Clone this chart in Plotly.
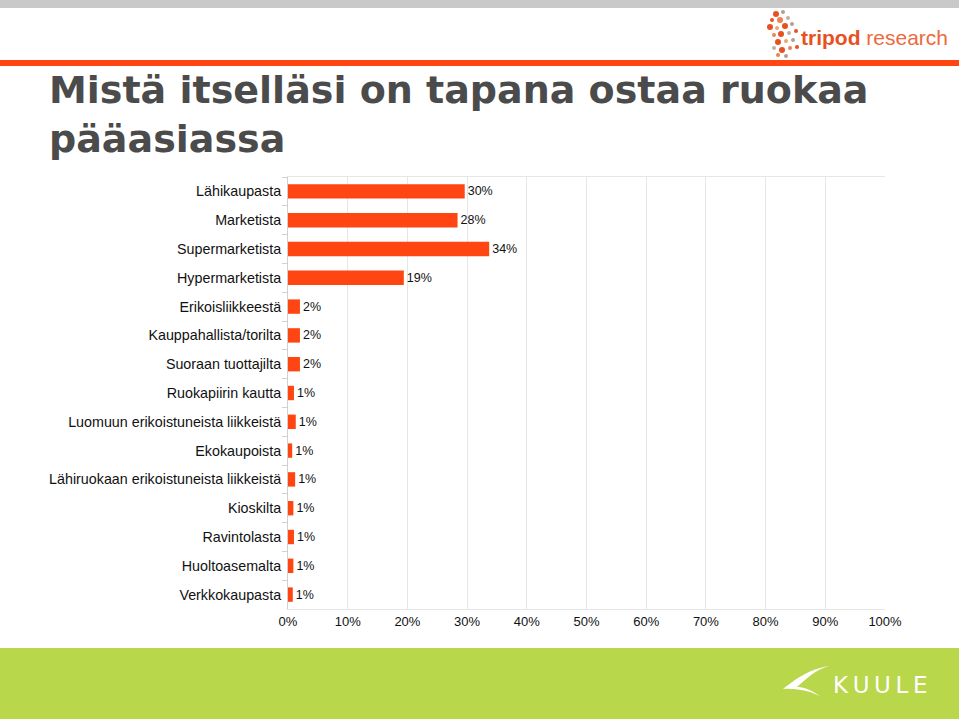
import plotly.graph_objects as go

# data
categories = [
    "Lähikaupasta", "Marketista", "Supermarketista", "Hypermarketista",
    "Erikoisliikkeestä", "Kauppahallista/torilta", "Suoraan tuottajilta",
    "Ruokapiirin kautta", "Luomuun erikoistuneista liikkeistä", "Ekokaupoista",
    "Lähiruokaan erikoistuneista liikkeistä", "Kioskilta", "Ravintolasta",
    "Huoltoasemalta", "Verkkokaupasta",
]
values = [29.6, 28.4, 33.7, 19.4, 2.0, 2.0, 2.0, 1.0, 1.3, 0.7, 1.2, 0.9, 1.0, 0.9, 0.8]
x_ticks = list(range(0, 101, 10))

W, H = 959, 719
L, R, T, B = 288, 74, 177, 110
pw, ph = W - L - R, H - T - B


def px(x):
    return (x - L) / pw


def py(y):
    return (H - B - y) / ph


def path(points):
    # points given in page pixels -> svg path in paper units
    s = ""
    for cmd, pts in points:
        s += cmd + " " + " ".join(f"{px(a):.4f},{py(b):.4f}" for a, b in pts) + " "
    return s + "Z"


fig = go.Figure()
fig.add_trace(go.Bar(
    x=values, y=categories, orientation="h",
    marker=dict(color="#ff4512", line_width=0),
    text=[f"{v:.0f}%" for v in values], textposition="outside",
    textfont=dict(family="Liberation Sans, Arial", size=12.5, color="#111111"),
    cliponaxis=False,
))

shapes = [
    # grey band on top
    dict(type="rect", xref="paper", yref="paper", x0=px(0), x1=px(W), y0=py(8), y1=py(0),
         fillcolor="#c9c9c9", line_width=0, layer="below"),
    # orange rule
    dict(type="rect", xref="paper", yref="paper", x0=px(0), x1=px(W), y0=py(66), y1=py(60),
         fillcolor="#ff4512", line_width=0, layer="below"),
    # green footer
    dict(type="rect", xref="paper", yref="paper", x0=px(0), x1=px(W), y0=py(H), y1=py(648),
         fillcolor="#b8d74a", line_width=0, layer="below"),
    # kuule wing
    dict(type="path", xref="paper", yref="paper", line_width=0, fillcolor="white",
         path=path([("M", [(829, 666)]), ("C", [(806, 670), (795, 680), (783, 689)]),
                    ("C", [(800, 688), (812, 692), (821, 697)]),
                    ("C", [(810, 689), (803, 687), (797, 687)]),
                    ("C", [(806, 679), (815, 670), (829, 666)])])),
]

# tripod logo dots
dots = [(776, 14, 3, "#e8501f"), (783, 12, 2, "#b0a090"), (772, 20, 2, "#e8501f"),
        (780, 20, 3, "#f08050"), (788, 18, 2, "#c0b0a0"), (770, 27, 3, "#e8501f"),
        (777, 28, 2, "#f4a070"), (785, 26, 3, "#e8501f"), (792, 24, 2, "#b0a090"),
        (774, 35, 2, "#f08050"), (781, 34, 3, "#e8501f"), (789, 33, 2, "#c0b0a0"),
        (796, 31, 2, "#e8501f"), (778, 42, 3, "#e8501f"), (786, 41, 2, "#f4a070"),
        (793, 40, 2, "#b0a090"), (774, 48, 2, "#c0b0a0"), (782, 50, 3, "#e8501f"),
        (790, 48, 2, "#f08050"), (797, 47, 2, "#e8501f"), (786, 56, 2, "#b0a090"),
        (778, 55, 2, "#f08050")]
for x, y, r, c in dots:
    shapes.append(dict(type="circle", xref="paper", yref="paper", x0=px(x - r), x1=px(x + r),
                       y0=py(y + r), y1=py(y - r), fillcolor=c, line_width=0))

annotations = [
    dict(text="Mistä itselläsi on tapana ostaa ruokaa<br>pääasiassa", xref="paper", yref="paper",
         x=px(47), y=py(66), xanchor="left", yanchor="top", align="left", showarrow=False,
         font=dict(family="DejaVu Sans", size=38, color="#4b4b4b", weight="bold")),
    dict(text="<b>tripod</b> <span style='color:#ec6a3e'>research</span>", xref="paper", yref="paper",
         x=px(950), y=py(38), xanchor="right", yanchor="middle", showarrow=False,
         font=dict(family="Liberation Sans, Arial", size=21, color="#e8501f")),
    dict(text="K\u2009U\u2009U\u2009L\u2009E", xref="paper", yref="paper",
         x=px(929), y=py(685), xanchor="right", yanchor="middle", showarrow=False,
         font=dict(family="DejaVu Sans", size=23, color="white")),
]

fig.update_layout(
    width=W, height=H,
    margin=dict(l=L, r=R, t=T, b=B),
    paper_bgcolor="white", plot_bgcolor="white",
    showlegend=False, bargap=0.5,
    shapes=shapes, annotations=annotations,
    font=dict(family="Liberation Sans, Arial", color="#111111"),
)
fig.update_xaxes(
    range=[0, 100], tickvals=x_ticks, ticktext=[f"{t}%" for t in x_ticks],
    showgrid=True, gridcolor="#e6e6e6", gridwidth=1, zeroline=False,
    showline=True, linecolor="#e6e6e6", mirror=True,
    tickfont=dict(size=13, color="#111111"),
)
fig.update_yaxes(
    autorange="reversed", showline=True, linecolor="#d0d0d0", mirror=False,
    ticks="outside", tickson="boundaries", ticklen=5, tickcolor="#d0d0d0",
    ticklabelstandoff=3,
    tickfont=dict(size=14.3, color="#111111"),
)

fig.write_html("out.html", config={"displayModeBar": False},
               post_script="document.body.style.margin='0';")
